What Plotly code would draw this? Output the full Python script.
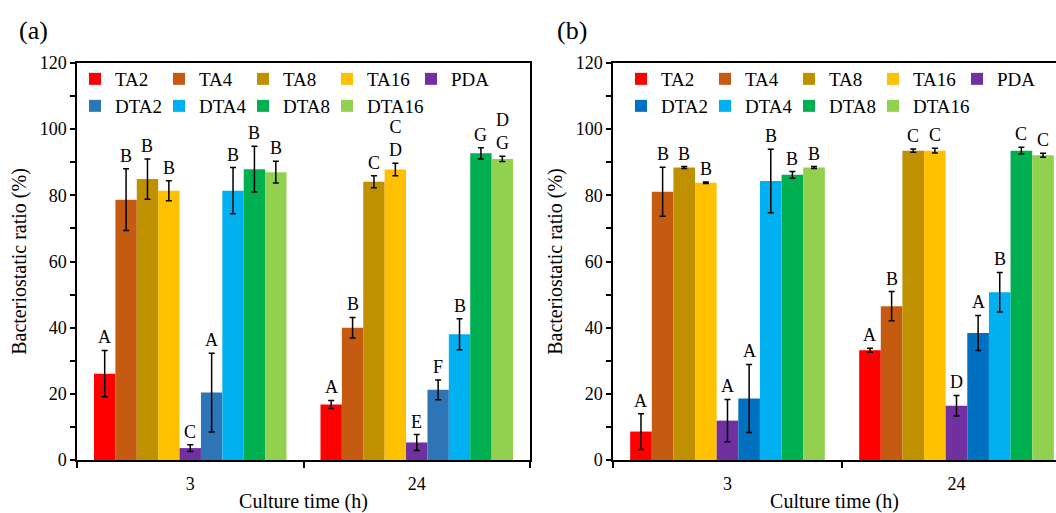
import plotly.graph_objects as go

# ---------------- data ----------------
series = ["TA2", "TA4", "TA8", "TA16", "PDA", "DTA2", "DTA4", "DTA8", "DTA16"]
times = ["3", "24"]

# panel (a)
a_3 = [26.1, 78.7, 84.9, 81.4, 3.6, 20.4, 81.4, 87.9, 87.0]
a_3_err = [7.0, 9.3, 6.1, 3.0, 1.0, 11.9, 7.0, 6.9, 3.3]
a_24 = [16.8, 40.0, 84.1, 87.8, 5.3, 21.2, 38.0, 92.7, 91.0]
a_24_err = [1.2, 3.1, 1.8, 1.9, 2.4, 3.0, 4.7, 1.7, 0.8]
a_3_lbl = ["A", "B", "B", "B", "C", "A", "B", "B", "B"]
a_24_lbl = ["A", "B", "C", "C<br>D", "E", "F", "B", "G", "D<br>G"]

# panel (b)
b_3 = [8.6, 81.1, 88.4, 83.8, 11.9, 18.6, 84.3, 86.2, 88.4]
b_3_err = [5.4, 7.4, 0.3, 0.2, 6.4, 10.3, 9.6, 1.0, 0.3]
b_24 = [33.2, 46.5, 93.5, 93.5, 16.4, 38.4, 50.7, 93.5, 92.1]
b_24_err = [0.6, 4.4, 0.5, 0.7, 3.1, 5.3, 6.0, 1.0, 0.6]
b_3_lbl = ["A", "B", "B", "B", "A", "A", "B", "B", "B"]
b_24_lbl = ["A", "B", "C", "C", "D", "A", "B", "C", "C"]

colors_a = ["#FF0000", "#C55A11", "#BF9000", "#FFC000", "#7030A0",
            "#2E75B6", "#00B0F0", "#00B050", "#92D050"]
colors_b = ["#FF0000", "#C55A11", "#BF9000", "#FFC000", "#7030A0",
            "#0070C0", "#00B0F0", "#00B050", "#92D050"]

FONT = "Liberation Serif"
BARGAP = 0.15
W, H = 1056, 513

fig = go.Figure()

panels = [
    dict(xa="x", ya="y", v3=a_3, e3=a_3_err, v24=a_24, e24=a_24_err,
         l3=a_3_lbl, l24=a_24_lbl, colors=colors_a, legends=("legend", "legend2")),
    dict(xa="x2", ya="y2", v3=b_3, e3=b_3_err, v24=b_24, e24=b_24_err,
         l3=b_3_lbl, l24=b_24_lbl, colors=colors_b, legends=("legend3", "legend4")),
]

n = len(series)
annotations = []
for p in panels:
    for i, name in enumerate(series):
        extra = {}
        if i in (4, 8):  # last entry of each legend row: give room for its text
            extra["legendwidth"] = 75
        fig.add_trace(go.Bar(
            name=name, x=times, y=[p["v3"][i], p["v24"][i]],
            xaxis=p["xa"], yaxis=p["ya"],
            marker=dict(color=p["colors"][i], line=dict(width=0)),
            error_y=dict(type="data", array=[p["e3"][i], p["e24"][i]],
                         color="black", thickness=1.5, width=3),
            legend=p["legends"][0] if i < 5 else p["legends"][1],
            showlegend=True, **extra,
        ))
        # significance letters above each bar / error bar
        group_w = 1 - BARGAP
        off = -group_w / 2 + (i + 0.5) * group_w / n
        for ci, (vals, errs, lbls) in enumerate([(p["v3"], p["e3"], p["l3"]),
                                                  (p["v24"], p["e24"], p["l24"])]):
            annotations.append(dict(
                x=ci + off, y=vals[i] + errs[i], xref=p["xa"], yref=p["ya"],
                text=lbls[i], showarrow=False, yanchor="bottom", xanchor="center",
                yshift=1, font=dict(family=FONT, size=18, color="black"),
            ))

# panel labels
annotations.append(dict(x=33 / W, y=1 - 31 / H, xref="paper", yref="paper",
                        text="(a)", showarrow=False, xanchor="center", yanchor="middle",
                        font=dict(family=FONT, size=26, color="black")))
annotations.append(dict(x=572 / W, y=1 - 31 / H, xref="paper", yref="paper",
                        text="(b)", showarrow=False, xanchor="center", yanchor="middle",
                        font=dict(family=FONT, size=26, color="black")))

y_dom = [1 - 460 / H, 1 - 63 / H]
xa_dom = [77 / W, 530 / W]
xb_dom = [613 / W, 1.0]
cat_px_b = 229.0
xb_max = -0.5 + (W - 613) / cat_px_b

axis_common = dict(
    showline=True, linecolor="black", linewidth=1.5,
    ticks="outside", tickcolor="black", tickwidth=1.5,
    tickfont=dict(family=FONT, size=18, color="black"),
    showgrid=False, zeroline=False,
)

xaxis_style = dict(axis_common, type="category", tickson="boundaries", ticklen=6,
                   ticklabelstandoff=7,
                   title=dict(text="Culture time (h)", font=dict(family=FONT, size=20, color="black"),
                              standoff=6))
yaxis_style = dict(axis_common, range=[0, 120], dtick=20, ticklen=5,
                   minor=dict(dtick=10, ticks="outside", ticklen=5, tickcolor="black", tickwidth=1.5),
                   title=dict(text="Bacteriostatic ratio (%)", font=dict(family=FONT, size=20, color="black"),
                              standoff=8))

leg_common = dict(orientation="h", xanchor="left", yanchor="middle",
                  bgcolor="rgba(0,0,0,0)", font=dict(family=FONT, size=19, color="black"),
                  entrywidth=39, itemwidth=30, tracegroupgap=0)

fig.update_layout(
    width=W, height=H,
    margin=dict(l=0, r=0, t=0, b=0, pad=0, autoexpand=False),
    paper_bgcolor="white", plot_bgcolor="white",
    barmode="group", bargap=BARGAP, bargroupgap=0,
    font=dict(family=FONT, color="black"),
    xaxis=dict(xaxis_style, domain=xa_dom, anchor="y", mirror=True, range=[-0.5, 1.5]),
    yaxis=dict(yaxis_style, domain=y_dom, anchor="x", mirror=True),
    xaxis2=dict(xaxis_style, domain=xb_dom, anchor="y2", mirror=True, range=[-0.5, xb_max]),
    yaxis2=dict(yaxis_style, domain=y_dom, anchor="x2", mirror=False),
    legend=dict(leg_common, x=75 / W, y=1 - 79 / H),
    legend2=dict(leg_common, x=75 / W, y=1 - 106 / H),
    legend3=dict(leg_common, x=621 / W, y=1 - 79 / H),
    legend4=dict(leg_common, x=621 / W, y=1 - 106 / H),
    annotations=annotations,
)

fig.write_html("out.html")
